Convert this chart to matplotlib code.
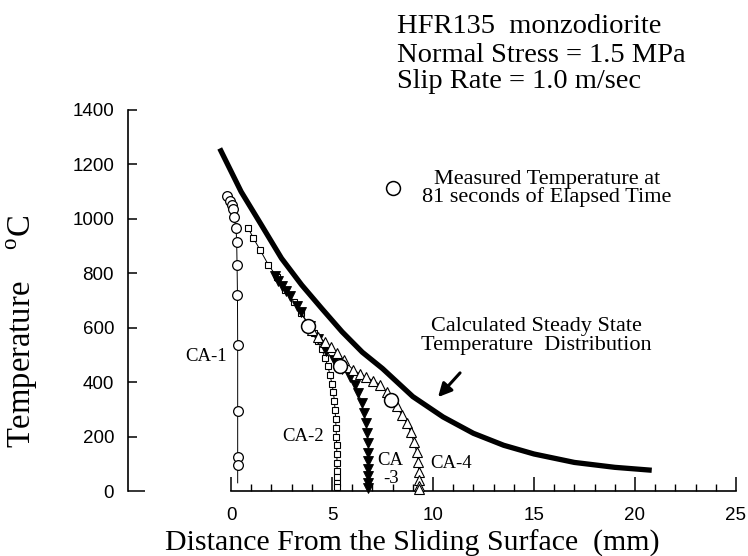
import matplotlib
matplotlib.use("Agg")
import matplotlib.pyplot as plt
from matplotlib.ticker import FixedLocator

plt.rcParams["font.family"] = ["Liberation Serif", "DejaVu Serif"]
plt.rcParams["mathtext.fontset"] = "custom"
plt.rcParams["mathtext.rm"] = "Liberation Serif"

# Calculated steady state temperature distribution (thick curve)
calc_x = [-0.5, 0.5, 1.5, 2.5, 3.5, 4.5, 5.5, 6.5, 7.5, 9.0, 10.5, 12.0,
          13.5, 15.0, 17.0, 19.0, 20.7]
calc_T = [1250, 1100, 978, 855, 757, 670, 585, 510, 450, 347, 272, 212,
          168, 136, 105, 87, 77]

# Thermocouple records (mm from sliding surface, deg C)
ca1_x = [-0.2, -0.05, 0.05, 0.1, 0.15, 0.25, 0.28, 0.3, 0.32, 0.33, 0.33,
         0.33, 0.33, 0.33]
ca1_T = [1085, 1065, 1050, 1035, 1005, 965, 915, 830, 720, 535, 295,
         125, 95, 30]

ca2_x = [0.86, 1.1, 1.44, 1.85, 2.26, 2.67, 3.1, 3.45, 3.8, 4.1, 4.3, 4.5,
         4.65, 4.8, 4.9, 5.0, 5.07, 5.12, 5.15, 5.18, 5.2, 5.22, 5.23, 5.24,
         5.25, 5.25, 5.26, 5.26, 5.27]
ca2_T = [965, 930, 886, 831, 788, 740, 695, 655, 615, 580, 550, 520,
         490, 458, 426, 393, 362, 330, 298, 265, 232, 200, 168, 135,
         103, 75, 50, 30, 15]

ca3_x = [2.2, 2.35, 2.5, 2.7, 2.92, 3.25, 3.45, 3.9, 4.3, 4.7, 5.1, 5.5,
         5.9, 6.14, 6.3, 6.47, 6.58, 6.68, 6.75, 6.8, 6.8, 6.8, 6.8, 6.8,
         6.8, 6.8]
ca3_T = [790, 772, 755, 735, 715, 680, 658, 605, 560, 515, 480, 450,
         420, 390, 360, 323, 286, 250, 213, 176, 139, 110, 80, 55, 30, 12]

ca4_x = [4.0, 4.3, 4.65, 4.95, 5.25, 5.6, 6.05, 6.4, 6.7, 7.05, 7.4, 7.7,
         8.2, 8.45, 8.7, 8.9, 9.05, 9.2, 9.27, 9.3, 9.3, 9.3, 9.3]
ca4_T = [590, 566, 549, 530, 507, 480, 445, 430, 418, 405, 390, 365,
         312, 280, 250, 215, 180, 142, 105, 70, 40, 20, 8]

# Measured temperature at 81 s
meas_x = [3.8, 5.4, 7.9]
meas_T = [605, 460, 335]

ca_labels = ["CA-1", "CA-2", "CA", "-3", "CA-4"]
ca_label_x = [-0.2, 3.58, 7.9, 7.9, 9.85]
ca_label_T = [494, 200, 113, 47, 102]
ca_label_ha = ["right", "center", "center", "center", "left"]

header_lines = ["HFR135  monzodiorite", "Normal Stress = 1.5 MPa",
                "Slip Rate = 1.0 m/sec"]
header_baselines_px = [33, 62, 88]

arrow_tip = (10.25, 345)
arrow_tail = (11.34, 434)

W, H = 748, 556
fig = plt.figure(figsize=(W / 100, H / 100), dpi=100)
fig.patch.set_facecolor("white")
ax = fig.add_axes([128 / W, 1 - 491 / H, 612 / W, 381 / H])
ax.set_xlim(-5.1, 25.2)
ax.set_ylim(0, 1400)

ax.plot(calc_x, calc_T, color="black", lw=3.8, zorder=2)

thin = dict(color="black", lw=0.7, clip_on=False)
ax.plot(ca1_x, ca1_T, marker="o", ms=7, mfc="white", mec="black", mew=0.9,
        markevery=list(range(len(ca1_x) - 1)), zorder=3, **thin)
ax.plot(ca2_x, ca2_T, marker="s", ms=4.6, mfc="white", mec="black",
        mew=0.8, zorder=3, **thin)
ax.plot(ca3_x, ca3_T, marker="v", ms=6.5, mfc="black", mec="black",
        mew=0.6, zorder=3, **thin)
ax.plot(ca4_x, ca4_T, marker="^", ms=7, mfc="white", mec="black",
        mew=0.8, zorder=3, **thin)
meas_line, = ax.plot(meas_x, meas_T, linestyle="none", marker="o", ms=10,
                     mfc="white", mec="black", mew=1.1, zorder=5)

for txt, lx, ly, ha in zip(ca_labels, ca_label_x, ca_label_T, ca_label_ha):
    ax.text(lx, ly, txt, fontsize=13.5, ha=ha, va="center")

ax.text(15.1, 570, "Calculated Steady State\nTemperature  Distribution",
        fontsize=16, ha="center", va="center", linespacing=0.95)
ax.annotate("", xy=arrow_tip, xytext=arrow_tail,
            arrowprops=dict(arrowstyle="-|>", lw=2.2, color="black",
                            mutation_scale=20, shrinkA=0, shrinkB=0))

leg = ax.legend([meas_line], ["Measured Temperature at\n81 seconds of Elapsed Time"],
                loc="center left", bbox_to_anchor=(382 / W, 1 - 188.5 / H),
                bbox_transform=fig.transFigure, frameon=False, fontsize=16,
                handlelength=1.0, handletextpad=0.8, borderpad=0,
                borderaxespad=0, numpoints=1)
for t in leg.get_texts():
    t.set_multialignment("center")
    t.set_linespacing(0.85)

for line, yb in zip(header_lines, header_baselines_px):
    fig.text(397 / W, 1 - yb / H, line, fontsize=20.5, ha="left", va="baseline")

# axes styling
for side in ["top", "right"]:
    ax.spines[side].set_visible(False)
ax.spines["bottom"].set_bounds(0, 25)
ax.spines["left"].set_bounds(0, 1400)
for side in ["bottom", "left"]:
    ax.spines[side].set_linewidth(1.2)

ax.set_xticks(range(0, 26, 5))
ax.xaxis.set_minor_locator(FixedLocator(range(0, 26)))
ax.set_yticks(range(0, 1401, 200))
ax.tick_params(axis="x", which="major", direction="in", length=10, width=1.1,
               pad=11.5, labelsize=13.5, labelfontfamily="Liberation Sans")
ax.tick_params(axis="x", which="minor", direction="in", length=5, width=1.0)
ax.tick_params(axis="y", which="major", direction="in", length=6.5, width=1.1,
               pad=10, labelsize=13.5, labelfontfamily="Liberation Sans")
ax.yaxis.get_major_ticks()[0].tick1line.set_markersize(12)

ax.set_xlabel("Distance From the Sliding Surface  (mm)", fontsize=21.5)
ax.xaxis.set_label_coords(0.465, -0.102)
ax.set_ylabel("Temperature$\\quad^{\\rm o}$C", fontsize=23.5)
ax.yaxis.set_label_coords(-0.144, 0.42)

fig.savefig("out.png", dpi=100, facecolor="white")
